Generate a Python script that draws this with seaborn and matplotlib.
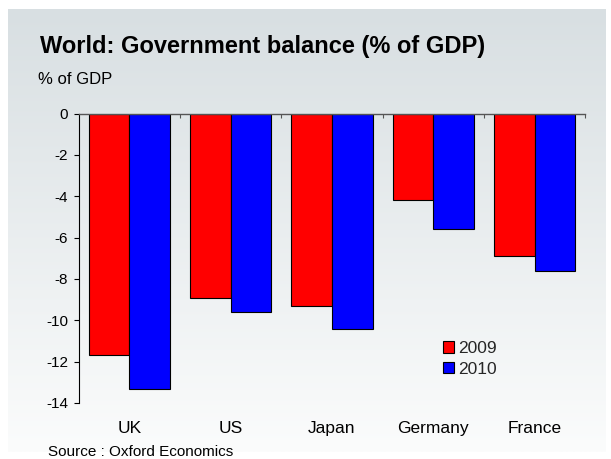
import numpy as np
import pandas as pd
import matplotlib
matplotlib.use("Agg")
import matplotlib.pyplot as plt
from matplotlib.colors import LinearSegmentedColormap
import seaborn as sns

countries = ["UK", "US", "Japan", "Germany", "France"]
years = ["2009", "2010"]
bal_2009 = [-11.7, -8.9, -9.3, -4.2, -6.9]
bal_2010 = [-13.3, -9.6, -10.4, -5.6, -7.6]
yticks = [0, -2, -4, -6, -8, -10, -12, -14]

df = pd.DataFrame({
    "country": countries * 2,
    "year": [years[0]] * len(countries) + [years[1]] * len(countries),
    "value": bal_2009 + bal_2010,
})

sns.set_theme(style="white")
plt.rcParams["font.family"] = ["Liberation Sans", "DejaVu Sans"]

W, H = 611, 459
fig = plt.figure(figsize=(W / 100, H / 100), dpi=100)
fig.patch.set_facecolor("white")

# gradient background panel
bg = fig.add_axes([8 / W, 1 - 452 / H, (606 - 8) / W, (452 - 9) / H], zorder=0)
grad = np.linspace(0, 1, 256).reshape(-1, 1)
cmap = LinearSegmentedColormap.from_list("g", ["#d8dfe2", "#fbfcfc"])
bg.imshow(grad, aspect="auto", cmap=cmap, extent=[0, 1, 0, 1], origin="upper")
bg.axis("off")

ax = fig.add_axes([78.7 / W, 1 - 403 / H, (585.3 - 78.7) / W, (403 - 113.5) / H], zorder=1)
ax.patch.set_alpha(0)
sns.barplot(data=df, x="country", y="value", hue="year", palette=["#ff0000", "#0000ff"],
            edgecolor="black", linewidth=0.8, width=0.8, gap=0, saturation=1, ax=ax,
            errorbar=None)
ax.set_ylim(-14, 0)
ax.set_xlim(-0.5, 4.5)
ax.set_xlabel("")
ax.set_ylabel("")

for s in ["right", "bottom"]:
    ax.spines[s].set_visible(False)
ax.spines["left"].set_color("black")
ax.spines["left"].set_linewidth(0.8)
ax.spines["top"].set_color("#555555")
ax.spines["top"].set_linewidth(1.0)

ax.set_yticks(yticks)
ax.set_yticklabels([str(v) for v in yticks])
ax.tick_params(axis="y", direction="out", length=3.5, width=0.8, color="black",
               left=True, labelsize=11, pad=4, labelcolor="black")
ax.tick_params(axis="x", which="major", bottom=False, top=False, length=0,
               pad=13, labelsize=12.5, labelcolor="black")
ax.set_xticks([0.5, 1.5, 2.5, 3.5, 4.5], minor=True)
ax.tick_params(axis="x", which="minor", top=True, bottom=False, direction="in",
               length=3, width=0.8, color="#555555")

handles, labels = ax.get_legend_handles_labels()
if ax.legend_ is not None:
    ax.legend_.remove()
fig.legend(handles, labels, loc="upper left", bbox_to_anchor=(436 / W, 1 - 334 / H),
           frameon=False, handlelength=0.65, handleheight=0.65, handletextpad=0.2,
           labelspacing=0.32, fontsize=12.5, borderaxespad=0)

fig.text(40 / W, 1 - 47 / H, "World: Government balance (% of GDP)", fontsize=17,
         fontweight="bold", va="center", ha="left", color="black")
fig.text(38 / W, 1 - 80 / H, "% of GDP", fontsize=12, va="center", ha="left", color="black")
fig.text(48 / W, 1 - 452 / H, "Source : Oxford Economics", fontsize=11, va="center",
         ha="left", color="black")

fig.savefig("out.png", dpi=100)
